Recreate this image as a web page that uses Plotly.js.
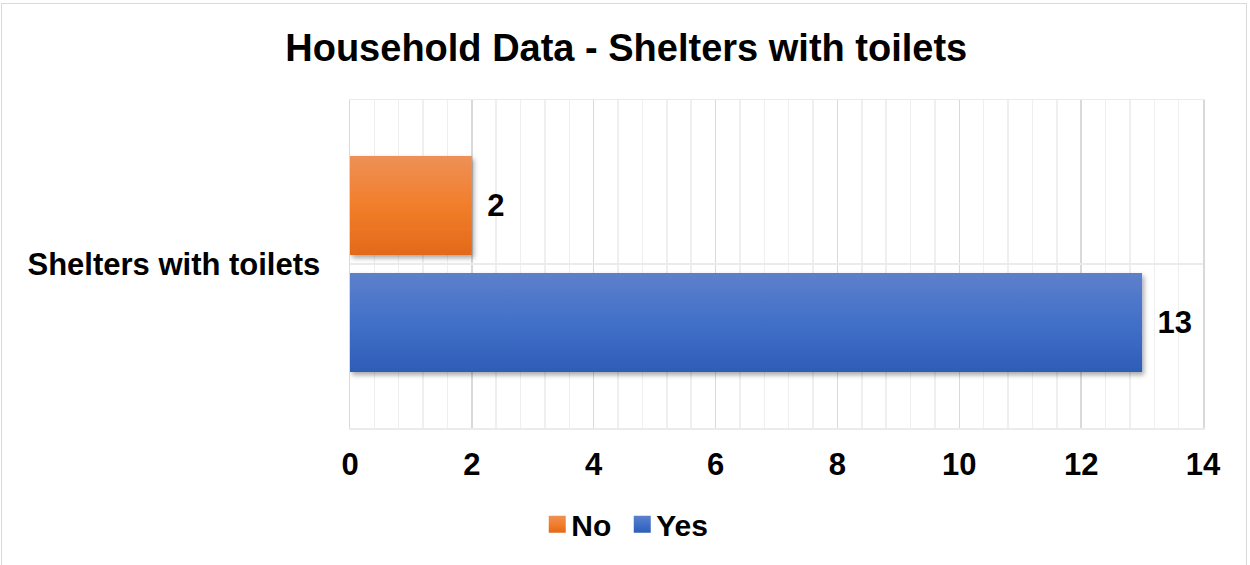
<!DOCTYPE html>
<html>
<head>
<meta charset="utf-8">
<script src="https://cdn.plot.ly/plotly-3.0.1.min.js"></script>
<style>
html,body{margin:0;padding:0;background:#fff;}
#chart{width:1250px;height:565px;position:relative;}
#frame{position:absolute;left:1px;top:3px;width:1246px;height:600px;border:1.5px solid #D9D9D9;pointer-events:none;box-sizing:border-box;}
</style>
</head>
<body>
<div id="chart"></div>
<div id="frame"></div>
<script>
const categories = ["Shelters with toilets"];
const seriesNames = ["Yes", "No"];
const yesValues = [13];
const noValues = [2];
const xTickVals = [0, 2, 4, 6, 8, 10, 12, 14];

const font = "Liberation Sans, Arial, sans-serif";
const labelFont = {family: font, size: 31, color: "#000", weight: "bold"};

const traces = [
  {
    type: "bar", orientation: "h", name: seriesNames[0],
    y: categories, x: yesValues,
    marker: {color: "#4472C4"},
    text: yesValues.map(v => "\u2009\u2009" + v), textposition: "outside",
    textfont: labelFont,
    cliponaxis: false
  },
  {
    type: "bar", orientation: "h", name: seriesNames[1],
    y: categories, x: noValues,
    marker: {color: "#F07F2A"},
    text: noValues.map(v => "\u2009\u2009" + v), textposition: "outside",
    textfont: labelFont,
    cliponaxis: false
  }
];

const layout = {
  width: 1250, height: 565,
  margin: {l: 350, r: 47, t: 100, b: 137},
  paper_bgcolor: "#fff", plot_bgcolor: "#fff",
  font: {family: font, color: "#000"},
  title: {
    text: "<b>Household Data - Shelters with toilets</b>",
    font: {family: font, size: 38, color: "#000"},
    x: 0.501, xref: "container", xanchor: "center", y: 0.915, yanchor: "middle"
  },
  barmode: "group", bargap: 0.287, bargroupgap: 0.154,
  xaxis: {
    range: [0, 14], tickvals: xTickVals, ticktext: xTickVals.map(String),
    showgrid: true, gridcolor: "#D9D9D9", gridwidth: 1.5,
    minor: {dtick: 0.4, showgrid: true, gridcolor: "#EFEFEF", gridwidth: 1.5},
    zeroline: false, showline: true, mirror: true, linecolor: "#EBEBEB", linewidth: 1.5,
    ticks: "", ticklabelstandoff: 8,
    tickfont: labelFont,
    fixedrange: true
  },
  yaxis: {
    type: "category",
    showgrid: true, gridcolor: "#EBEBEB", gridwidth: 1.5,
    showline: true, mirror: true, linecolor: "#D9D9D9", linewidth: 1.5,
    ticks: "", ticklabelstandoff: 22,
    tickfont: labelFont,
    fixedrange: true
  },
  legend: {
    orientation: "h", x: 0.5026, xanchor: "center", xref: "container",
    y: 0.072, yref: "container", yanchor: "middle",
    traceorder: "reversed",
    font: {family: font, size: 30, color: "#000", weight: "bold"},
    itemwidth: 30
  },
  showlegend: true
};

Plotly.newPlot("chart", traces, layout, {displayModeBar: false, staticPlot: true}).then(gd => {
  const svg = gd.querySelector("svg.main-svg");
  const ns = "http://www.w3.org/2000/svg";
  let defs = svg.querySelector("defs");
  if (!defs) { defs = document.createElementNS(ns, "defs"); svg.insertBefore(defs, svg.firstChild); }
  function grad(id, stops) {
    const g = document.createElementNS(ns, "linearGradient");
    g.setAttribute("id", id); g.setAttribute("x1", "0"); g.setAttribute("y1", "0");
    g.setAttribute("x2", "0"); g.setAttribute("y2", "1");
    stops.forEach(([o, c]) => {
      const s = document.createElementNS(ns, "stop");
      s.setAttribute("offset", o); s.setAttribute("stop-color", c);
      g.appendChild(s);
    });
    defs.appendChild(g);
  }
  grad("gYes", [["0", "#5D80CB"], ["0.5", "#4270C9"], ["1", "#2E5DB6"]]);
  grad("gNo", [["0", "#EE9057"], ["0.5", "#F27E2B"], ["1", "#E2691A"]]);
  const f = document.createElementNS(ns, "filter");
  f.setAttribute("id", "shadow"); f.setAttribute("x", "-10%"); f.setAttribute("y", "-10%");
  f.setAttribute("width", "130%"); f.setAttribute("height", "140%");
  f.innerHTML = '<feDropShadow dx="2" dy="3" stdDeviation="2.5" flood-color="#000" flood-opacity="0.35"/>';
  defs.appendChild(f);
  const barTraces = gd.querySelectorAll(".barlayer .trace");
  const ids = ["gYes", "gNo"];
  barTraces.forEach((t, i) => {
    t.querySelectorAll("path").forEach(p => {
      p.style.fill = "url(#" + ids[i] + ")";
      p.setAttribute("filter", "url(#shadow)");
    });
  });
  gd.querySelectorAll(".legend .traces").forEach(tr => {
    const name = tr.textContent.trim();
    tr.querySelectorAll(".legendpoints path").forEach(p => {
      p.setAttribute("d", "M8.5,8.5H-8.5V-8.5H8.5Z");
      p.style.fill = "url(#" + (name === "Yes" ? "gYes" : "gNo") + ")";
      p.style.stroke = "none";
    });
    const t = tr.querySelector("text.legendtext");
    if (t) {
      const x = parseFloat(t.getAttribute("x") || "0");
      t.setAttribute("x", x - 6);
    }
  });
});
</script>
</body>
</html>
